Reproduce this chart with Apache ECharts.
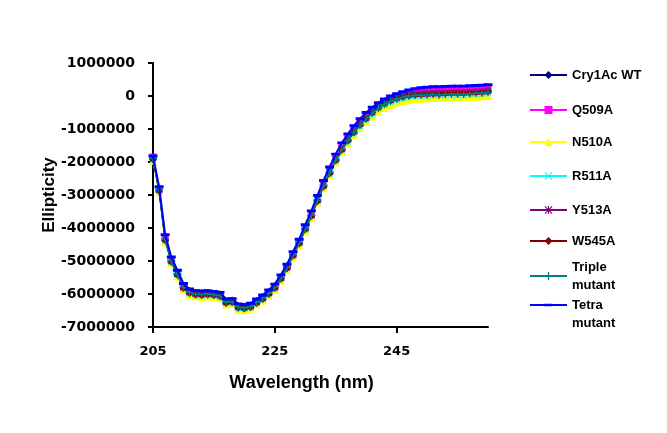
<!DOCTYPE html>
<html>
<head>
<meta charset="utf-8">
<script src="https://cdn.jsdelivr.net/npm/echarts@6/dist/echarts.min.js"></script>
<style>html,body{margin:0;padding:0;background:#fff;}#c{width:667px;height:433px;}</style>
</head>
<body>
<div id="c"></div>
<script>
var wavelengths = [205,206,207,208,209,210,211,212,213,214,215,216,217,218,219,220,221,222,223,224,225,226,227,228,229,230,231,232,233,234,235,236,237,238,239,240,241,242,243,244,245,246,247,248,249,250,251,252,253,254,255,256,257,258,259,260];
var xTicks = [205, 225, 245];
var seriesNames = ['Cry1Ac WT','Q509A','N510A','R511A','Y513A','W545A','Triple mutant','Tetra mutant'];

var cry1acWT = [-1880000,-2800000,-4300000,-4960000,-5360000,-5760000,-5920000,-5970000,-5980000,-5970000,-5990000,-6010000,-6220000,-6200000,-6370000,-6390000,-6350000,-6220000,-6100000,-5950000,-5770000,-5490000,-5170000,-4790000,-4420000,-3990000,-3590000,-3130000,-2690000,-2290000,-1910000,-1590000,-1310000,-1060000,-840000,-650000,-480000,-330000,-210000,-120000,-50000,0,40000,70000,90000,100000,110000,110000,120000,120000,130000,130000,140000,150000,160000,170000];
var q509a = [-1850000,-2830000,-4320000,-4980000,-5390000,-5790000,-5940000,-5990000,-6000000,-5990000,-6010000,-6040000,-6240000,-6220000,-6390000,-6410000,-6370000,-6240000,-6120000,-5970000,-5790000,-5500000,-5180000,-4800000,-4430000,-4000000,-3600000,-3140000,-2700000,-2290000,-1900000,-1570000,-1290000,-1040000,-820000,-630000,-460000,-310000,-190000,-100000,-20000,30000,80000,110000,130000,150000,160000,160000,170000,180000,180000,190000,200000,210000,220000,230000];
var n510a = [-1960000,-2920000,-4420000,-5070000,-5470000,-5870000,-6020000,-6070000,-6090000,-6070000,-6090000,-6120000,-6320000,-6300000,-6470000,-6490000,-6450000,-6320000,-6200000,-6050000,-5870000,-5590000,-5270000,-4890000,-4520000,-4090000,-3690000,-3230000,-2790000,-2390000,-2010000,-1700000,-1430000,-1180000,-970000,-780000,-620000,-480000,-360000,-270000,-200000,-150000,-110000,-90000,-80000,-70000,-60000,-60000,-50000,-50000,-40000,-40000,-30000,-20000,-10000,0];
var r511a = [-1930000,-2880000,-4380000,-5030000,-5430000,-5830000,-5980000,-6030000,-6050000,-6030000,-6050000,-6080000,-6280000,-6260000,-6430000,-6450000,-6410000,-6280000,-6160000,-6010000,-5830000,-5550000,-5230000,-4850000,-4480000,-4050000,-3650000,-3190000,-2750000,-2350000,-1970000,-1650000,-1380000,-1130000,-910000,-720000,-550000,-400000,-280000,-190000,-120000,-70000,-30000,-10000,0,10000,20000,10000,20000,30000,30000,20000,40000,50000,60000,80000];
var y513a = [-1880000,-2830000,-4330000,-4980000,-5380000,-5780000,-5930000,-5980000,-6000000,-5980000,-6000000,-6030000,-6230000,-6210000,-6380000,-6400000,-6360000,-6230000,-6110000,-5960000,-5780000,-5500000,-5180000,-4800000,-4430000,-4000000,-3600000,-3140000,-2700000,-2300000,-1920000,-1600000,-1320000,-1070000,-850000,-660000,-490000,-340000,-220000,-130000,-60000,-10000,30000,50000,60000,70000,80000,80000,90000,100000,100000,100000,110000,120000,130000,150000];
var w545a = [-1920000,-2870000,-4370000,-5020000,-5420000,-5820000,-5970000,-6020000,-6040000,-6020000,-6040000,-6070000,-6270000,-6250000,-6420000,-6440000,-6400000,-6270000,-6150000,-6000000,-5820000,-5540000,-5220000,-4840000,-4470000,-4040000,-3640000,-3180000,-2740000,-2340000,-1950000,-1630000,-1350000,-1100000,-870000,-680000,-500000,-350000,-230000,-140000,-70000,-20000,20000,40000,50000,60000,70000,70000,80000,90000,90000,90000,100000,110000,120000,140000];
var tripleMutant = [-1900000,-2850000,-4350000,-5000000,-5400000,-5800000,-5950000,-6000000,-6020000,-6000000,-6020000,-6050000,-6250000,-6230000,-6400000,-6420000,-6380000,-6250000,-6130000,-5980000,-5800000,-5520000,-5200000,-4820000,-4450000,-4020000,-3620000,-3160000,-2720000,-2320000,-1940000,-1620000,-1350000,-1100000,-880000,-690000,-520000,-370000,-250000,-160000,-90000,-40000,0,20000,30000,40000,50000,40000,50000,60000,60000,50000,70000,80000,90000,110000];
var tetraMutant = [-1820000,-2750000,-4200000,-4880000,-5280000,-5680000,-5850000,-5900000,-5910000,-5900000,-5920000,-5950000,-6150000,-6140000,-6300000,-6320000,-6280000,-6150000,-6030000,-5880000,-5700000,-5420000,-5100000,-4720000,-4340000,-3900000,-3480000,-3010000,-2560000,-2150000,-1760000,-1420000,-1150000,-900000,-690000,-500000,-340000,-200000,-90000,0,70000,130000,180000,220000,250000,270000,280000,280000,290000,300000,300000,300000,310000,320000,330000,340000];

var allValues = [cry1acWT, q509a, n510a, r511a, y513a, w545a, tripleMutant, tetraMutant];
var colors = ['#000080','#FF00FF','#FFFF00','#00FFFF','#800080','#800000','#008080','#0000FF'];
var symbols = [
  'diamond',
  'rect',
  'triangle',
  'path://M0,1L1,0L5,4L9,0L10,1L6,5L10,9L9,10L5,6L1,10L0,9L4,5Z',
  'path://M0,1L1,0L5,4L9,0L10,1L6,5L10,9L9,10L5,6L1,10L0,9L4,5Z M4.3,0L5.7,0L5.7,10L4.3,10Z',
  'diamond',
  'path://M4.2,0L5.8,0L5.8,4.2L10,4.2L10,5.8L5.8,5.8L5.8,10L4.2,10L4.2,5.8L0,5.8L0,4.2L4.2,4.2Z',
  'path://M0,3.4L10,3.4L10,6.6L0,6.6Z M5,0L5.02,0L5.02,0.02Z M5,10L5.02,10L5.02,9.98Z'
];
var symbolSizes = [8, 7, 8, 7, 7, 8, 8, 9];

var series = seriesNames.map(function (name, i) {
  return {
    name: name,
    type: 'line',
    data: wavelengths.map(function (w, j) { return [w, allValues[i][j]]; }),
    symbol: symbols[i],
    symbolSize: symbolSizes[i],
    showSymbol: true,
    lineStyle: { color: colors[i], width: i === 7 ? 2 : 1.5 },
    itemStyle: { color: colors[i] },
    emphasis: { disabled: true },
    animation: false,
    z: 2 + i
  };
});

var legendTops = [67, 102, 134, 168, 202, 233, 258, 278];
var legendLabels = ['Cry1Ac WT','Q509A','N510A','R511A','Y513A','W545A','Triple\nmutant',' \nTetra\nmutant'];
var legends = seriesNames.map(function (name, i) {
  var multi = (i >= 6);
  return {
    data: [name],
    left: 529,
    top: legendTops[i],
    padding: 0,
    itemWidth: 37,
    itemHeight: 10,
    selectedMode: false,
    textStyle: {
      fontFamily: '"Liberation Sans", Arial, sans-serif',
      fontWeight: 'bold',
      fontSize: 13,
      color: '#000',
      lineHeight: multi ? 18 : 16
    },
    formatter: function () { return legendLabels[i]; }
  };
});

var chart = echarts.init(document.getElementById('c'), null, { renderer: 'canvas' });
chart.setOption({
  animation: false,
  backgroundColor: '#fff',
  grid: { left: 153, right: 179, top: 63, bottom: 106, containLabel: false },
  legend: legends,
  xAxis: {
    type: 'value',
    min: 205,
    max: 260,
    name: 'Wavelength (nm)',
    nameLocation: 'middle',
    nameGap: 47,
    nameMoveOverlap: false,
    nameTextStyle: { fontFamily: '"Liberation Sans", Arial, sans-serif', fontWeight: 'bold', fontSize: 18, color: '#000', padding: [0, 38, 0, 0] },
    axisLine: { show: true, onZero: false, lineStyle: { color: '#000', width: 2 } },
    axisTick: { show: true, length: 6, customValues: xTicks, lineStyle: { color: '#000', width: 2 } },
    axisLabel: { customValues: xTicks, margin: 18, fontFamily: '"DejaVu Sans", sans-serif', fontWeight: 'bold', fontSize: 13, color: '#000' },
    splitLine: { show: false }
  },
  yAxis: {
    type: 'value',
    min: -7000000,
    max: 1000000,
    interval: 1000000,
    name: 'Ellipticity',
    nameLocation: 'middle',
    nameGap: 95,
    nameMoveOverlap: false,
    nameTextStyle: { fontFamily: '"Liberation Sans", Arial, sans-serif', fontWeight: 'bold', fontSize: 17, color: '#000' },
    axisLine: { show: true, onZero: false, lineStyle: { color: '#000', width: 2 } },
    axisTick: { show: true, length: 5, lineStyle: { color: '#000', width: 2 } },
    axisLabel: { margin: 18, fontFamily: '"DejaVu Sans", sans-serif', fontWeight: 'bold', fontSize: 14, color: '#000', formatter: function (v) { return String(v); } },
    splitLine: { show: false }
  },
  series: series
});
</script>
</body>
</html>
